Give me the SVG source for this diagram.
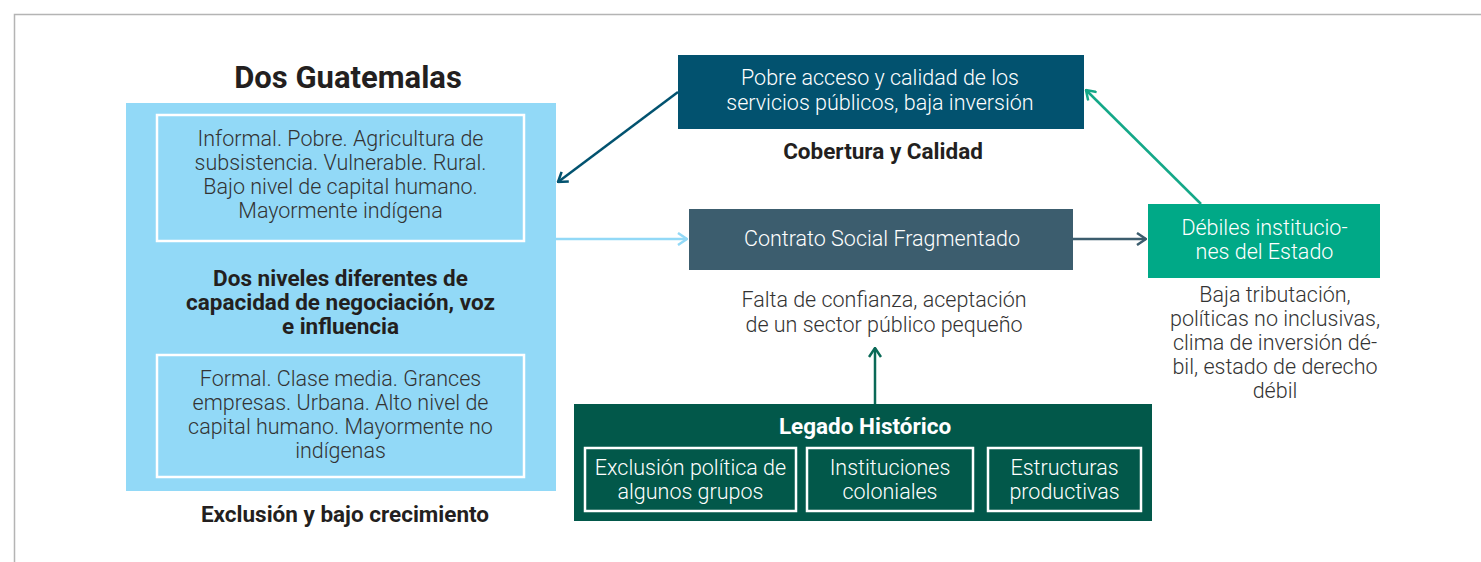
<svg xmlns="http://www.w3.org/2000/svg" width="1481" height="562" viewBox="0 0 1481 562">
<style>
.t{font-family:Roboto,"Liberation Sans",sans-serif;text-anchor:middle}
.b{font-weight:700;fill:#231f20;font-size:22.5px}
.d{font-weight:300;fill:#333333;font-size:21.5px}
.w{font-weight:300;fill:#ffffff;font-size:21.5px}
.box{stroke:#ffffff;stroke-width:2.5;fill:none}
</style>
<defs>
<marker id="m1" markerWidth="12" markerHeight="14" refX="11" refY="7" orient="auto" markerUnits="userSpaceOnUse"><path d="M2,1 L11,7 L2,13" fill="none" stroke="#02526f" stroke-width="2.5"/></marker>
<marker id="m2" markerWidth="12" markerHeight="14" refX="11" refY="7" orient="auto" markerUnits="userSpaceOnUse"><path d="M2,1 L11,7 L2,13" fill="none" stroke="#92d9f7" stroke-width="2.5"/></marker>
<marker id="m3" markerWidth="12" markerHeight="14" refX="11" refY="7" orient="auto" markerUnits="userSpaceOnUse"><path d="M2,1 L11,7 L2,13" fill="none" stroke="#3c5d6e" stroke-width="2.5"/></marker>
<marker id="m4" markerWidth="12" markerHeight="14" refX="11" refY="7" orient="auto" markerUnits="userSpaceOnUse"><path d="M2,1 L11,7 L2,13" fill="none" stroke="#14a888" stroke-width="2.5"/></marker>
<marker id="m5" markerWidth="12" markerHeight="14" refX="11" refY="7" orient="auto" markerUnits="userSpaceOnUse"><path d="M2,1 L11,7 L2,13" fill="none" stroke="#0a6957" stroke-width="2.5"/></marker>
</defs>
<rect width="1481" height="562" fill="#ffffff"/>
<path d="M14.5,562 L14.5,14.5 L1481,14.5" fill="none" stroke="#b4b4b4" stroke-width="1.5"/>

<g id="dos-guatemalas">
<text class="t b" x="348" y="88" style="font-size:31px">Dos Guatemalas</text>
<rect x="126" y="103" width="430" height="388" fill="#92d9f7"/>
<rect class="box" x="157" y="115" width="367" height="126"/>
<text class="t d" x="340.5" y="146">Informal. Pobre. Agricultura de</text>
<text class="t d" x="340.5" y="170">subsistencia. Vulnerable. Rural.</text>
<text class="t d" x="340.5" y="194">Bajo nivel de capital humano.</text>
<text class="t d" x="340.5" y="218">Mayormente indígena</text>
<text class="t b" x="340.5" y="286">Dos niveles diferentes de</text>
<text class="t b" x="340.5" y="310">capacidad de negociación, voz</text>
<text class="t b" x="340.5" y="334">e influencia</text>
<rect class="box" x="157" y="355" width="367" height="122"/>
<text class="t d" x="340.5" y="386">Formal. Clase media. Grances</text>
<text class="t d" x="340.5" y="410">empresas. Urbana. Alto nivel de</text>
<text class="t d" x="340.5" y="434">capital humano. Mayormente no</text>
<text class="t d" x="340.5" y="458">indígenas</text>
<text class="t b" x="345" y="522">Exclusión y bajo crecimiento</text>
</g>

<g id="cobertura">
<rect x="678" y="55" width="406" height="74" fill="#02526f"/>
<text class="t w" x="880" y="85">Pobre acceso y calidad de los</text>
<text class="t w" x="880" y="110">servicios públicos, baja inversión</text>
<text class="t b" x="883" y="159">Cobertura y Calidad</text>
</g>

<g id="contrato">
<rect x="689" y="209" width="384" height="61" fill="#3c5d6e"/>
<text class="t w" x="882" y="246">Contrato Social Fragmentado</text>
<text class="t d" x="884" y="307">Falta de confianza, aceptación</text>
<text class="t d" x="884" y="332">de un sector público pequeño</text>
</g>

<g id="debiles">
<rect x="1148" y="204" width="232" height="74" fill="#00a987"/>
<text class="t w" x="1264.5" y="235">Débiles institucio-</text>
<text class="t w" x="1264.5" y="259">nes del Estado</text>
<text class="t d" x="1275" y="302">Baja tributación,</text>
<text class="t d" x="1275" y="326">políticas no inclusivas,</text>
<text class="t d" x="1275" y="350">clima de inversión dé-</text>
<text class="t d" x="1275" y="374">bil, estado de derecho</text>
<text class="t d" x="1275" y="398">débil</text>
</g>

<g id="legado">
<rect x="574" y="404" width="578" height="117" fill="#02584a"/>
<text class="t b" x="865" y="434" style="fill:#ffffff">Legado Histórico</text>
<rect class="box" x="585" y="448" width="211" height="63"/>
<text class="t w" x="690.5" y="475">Exclusión política de</text>
<text class="t w" x="690.5" y="499">algunos grupos</text>
<rect class="box" x="807" y="448" width="166" height="63"/>
<text class="t w" x="890" y="475">Instituciones</text>
<text class="t w" x="890" y="499">coloniales</text>
<rect class="box" x="988" y="448" width="153" height="63"/>
<text class="t w" x="1064.5" y="475">Estructuras</text>
<text class="t w" x="1064.5" y="499">productivas</text>
</g>

<g id="connectors" fill="none" stroke-width="2.5">
<line x1="678" y1="92" x2="558" y2="182" stroke="#02526f" marker-end="url(#m1)"/>
<line x1="556" y1="239" x2="687" y2="239" stroke="#92d9f7" marker-end="url(#m2)"/>
<line x1="1073" y1="239" x2="1146" y2="239" stroke="#3c5d6e" marker-end="url(#m3)"/>
<line x1="1201" y1="204" x2="1086" y2="90" stroke="#14a888" marker-end="url(#m4)"/>
<line x1="875" y1="404" x2="875" y2="348" stroke="#0a6957" marker-end="url(#m5)"/>
</g>
</svg>
